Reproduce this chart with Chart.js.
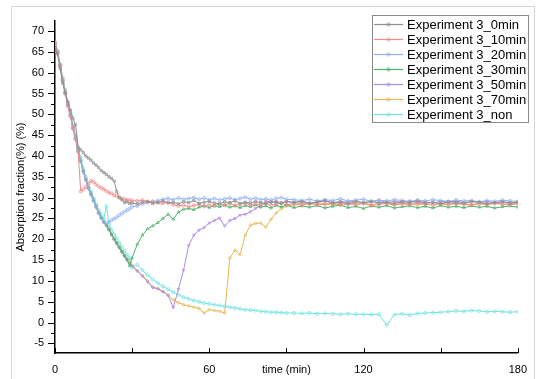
<!DOCTYPE html>
<html>
<head>
<meta charset="utf-8">
<script src="https://cdn.jsdelivr.net/npm/chart.js@4.4.1/dist/chart.umd.min.js"></script>
<style>
  html, body { margin: 0; padding: 0; background: #fff; }
  #wrap { position: relative; width: 537px; height: 379px; }
</style>
</head>
<body>
<div id="wrap"><canvas id="absChart"></canvas></div>
<script>
// time axis (min) shared by all runs
const timeMin = [
  0, 1, 2, 3, 4, 5, 6, 7, 8, 9, 10, 11, 12, 13, 14, 15, 16, 17, 18, 19, 20, 21, 22, 23, 24, 25, 26, 27, 28, 29, 30,
  32, 34, 36, 38, 40, 42, 44, 46, 48, 50, 52, 54, 56, 58, 60, 62, 64, 66, 68, 70, 72, 74, 76, 78, 80, 82, 84, 86, 88, 90,
  93, 96, 99, 102, 105, 108, 111, 114, 117, 120, 123, 126, 129, 132, 135, 138, 141, 144, 147, 150, 153, 156, 159, 162, 165, 168, 171, 174, 177, 180
];

const exp0min = [
  66, 64.5, 61, 57.5, 55, 53, 51, 49, 47.5, 42, 41.5, 40.8, 40, 39.5, 39, 38.3, 37.8, 37.2, 36.5, 36, 35.6, 35, 34.6, 34, 31.5, 30, 29.5, 28.8, 29, 28.6, 28.7,
  28.5, 28.9, 29.1, 28.6, 28.8, 29.2, 28.7, 28.9, 28.5, 29.0, 28.8, 29.3, 28.6, 28.9, 29.1, 28.7, 28.5, 29.0, 28.8, 29.2, 28.6, 28.9, 28.7, 29.1, 28.8, 28.6, 29.0, 28.9, 28.7, 29.1,
  28.8, 29.0, 28.6, 28.9, 29.2, 28.7, 28.9, 28.5, 29.0, 28.8, 29.1, 28.7, 28.9, 28.6, 29.0, 28.8, 29.2, 28.7, 28.9, 28.6, 29.0, 28.8, 28.7, 29.1, 28.9, 28.6, 28.8, 29.0, 28.7, 28.9
];
const exp10min = [
  67, 64.8, 61.5, 58, 55, 52, 49.5, 46.5, 44, 41, 31.5, 32, 32.6, 33.4, 34, 33.8, 33.2, 32.7, 32.3, 32, 31.6, 31.2, 31, 30.6, 30.4, 30, 29.8, 29.6, 29.5, 29.4, 29.3,
  29.2, 29.4, 29.0, 29.1, 28.8, 28.6, 28.9, 28.3, 28.0, 28.2, 27.8, 28.1, 28.4, 27.9, 28.3, 28.0, 28.5, 28.2, 28.6, 28.1, 28.4, 28.7, 28.2, 28.5, 28.3, 28.6, 28.2, 28.4, 28.7, 28.3,
  28.5, 28.2, 28.6, 28.3, 28.4, 28.7, 28.2, 28.5, 28.3, 28.6, 28.1, 28.4, 28.6, 28.2, 28.5, 28.3, 28.7, 28.4, 28.2, 28.5, 28.3, 28.6, 28.4, 28.2, 28.5, 28.3, 28.6, 28.4, 28.3, 28.5
];
const exp20min = [
  67, 65, 61.8, 58.3, 55.3, 52.3, 49.8, 46.8, 44.3, 41.3, 38.8, 36.3, 34.3, 32.3, 30.8, 29.3, 27.8, 26.3, 25.1, 24.2, 23.8, 24.2, 24.6, 24.9, 25.3, 25.8, 26.2, 26.6, 27.0, 27.3, 27.8,
  28.0, 28.5, 28.8, 29.0, 29.3, 29.6, 29.8, 29.5, 29.9, 29.6, 29.8, 30.0, 29.6, 29.9, 29.5, 29.8, 29.4, 29.7, 29.9, 29.5, 29.8, 30.1, 29.6, 29.9, 29.5, 29.7, 29.4, 29.8, 30.0, 29.6,
  29.5, 29.3, 29.6, 29.2, 29.5, 29.3, 29.7, 29.2, 29.4, 29.6, 29.1, 29.4, 29.2, 29.5, 29.3, 29.1, 29.4, 29.2, 29.5, 29.3, 29.1, 29.4, 29.2, 29.3, 29.0, 29.3, 29.1, 29.4, 29.2, 29.1
];
const exp30min = [
  66.8, 64.8, 61.7, 58.3, 55.3, 52.4, 49.9, 46.9, 44.4, 41.4, 38.9, 36.4, 34.4, 32.4, 30.9, 29.4, 27.9, 26.4, 25.2, 24.2, 23.4, 22.4, 21.2, 20.1, 19.1, 18.1, 17.1, 16.1, 15.2, 13.6, 15.5,
  18.8, 21.0, 22.5, 23.2, 24.0, 25.0, 26.0, 24.8, 26.5, 27.2, 27.4, 27.1, 27.7, 28.0, 27.6, 28.1, 27.8, 28.2, 27.7, 28.0, 27.6, 28.1, 27.8, 28.2, 27.7, 28.0, 27.5, 28.1, 27.8, 28.2,
  27.6, 28.0, 27.7, 28.1, 27.5, 27.9, 28.2, 27.6, 27.9, 27.4, 28.0, 27.7, 28.1, 27.5, 27.8, 28.0, 27.6, 27.9, 27.5, 28.1, 27.7, 27.9, 27.6, 28.0, 27.7, 27.9, 27.5, 27.8, 28.0, 27.7
];
const exp50min = [
  67, 64.6, 61.4, 58.1, 55.1, 52.1, 49.6, 46.6, 44.1, 41.1, 38.6, 36.1, 34.1, 32.1, 30.6, 29.1, 27.6, 26.2, 25.0, 24.0, 23.2, 22.2, 21.0, 19.9, 18.9, 17.9, 16.9, 15.9, 15.0, 14.2, 13.6,
  12.4, 11.2, 9.8, 8.4, 8.1, 7.4, 6.5, 3.6, 8.0, 12.6, 18.5, 21.0, 22.2, 22.8, 23.9, 24.5, 25.1, 23.2, 24.5, 25.0, 25.8, 26.0, 26.6, 27.4, 28.0, 29.2, 28.8, 29.1, 28.7, 29.0,
  28.9, 29.2, 28.7, 29.0, 29.3, 28.8, 29.1, 28.9, 29.2, 28.7, 29.0, 29.3, 28.8, 29.1, 28.9, 29.2, 28.8, 29.0, 28.7, 29.1, 28.9, 29.2, 28.8, 29.0, 28.9, 29.1, 28.7, 29.0, 28.8, 29.0
];
const exp70min = [
  67.3, 65.2, 62.0, 58.6, 55.6, 52.6, 50.1, 47.1, 44.6, 41.6, 39.1, 36.6, 34.6, 32.6, 31.1, 29.6, 28.1, 26.6, 25.4, 24.4, 23.5, 22.5, 21.3, 20.2, 19.2, 18.2, 17.2, 16.2, 15.3, 14.5, 13.8,
  12.5, 11.3, 10.0, 8.5, 8.2, 7.5, 6.6, 5.5, 4.8, 4.3, 4.0, 3.7, 3.4, 2.3, 3.1, 2.9, 2.7, 2.3, 15.5, 17.4, 16.3, 21.0, 23.4, 23.8, 23.9, 22.9, 24.8, 26.3, 27.3, 28.0,
  28.3, 28.7, 28.4, 28.8, 28.5, 28.2, 28.6, 28.9, 28.4, 28.7, 28.3, 28.6, 28.8, 28.4, 28.7, 28.5, 28.3, 28.6, 28.8, 28.5, 28.7, 28.4, 28.6, 28.3, 28.7, 28.5, 28.8, 28.4, 28.6, 28.5
];
const expNon = [
  67.2, 65.2, 62.0, 58.8, 55.8, 52.9, 50.3, 47.4, 44.9, 42.0, 39.5, 37.0, 35.0, 33.0, 31.4, 29.9, 28.4, 27.0, 25.9, 24.9, 28.0, 23.5, 22.3, 21.2, 20.2, 19.2, 18.2, 17.2, 16.3, 15.5, 13.2,
  13.9, 12.6, 11.4, 10.4, 9.5, 8.7, 8.0, 7.3, 6.7, 6.1, 5.7, 5.3, 5.0, 4.7, 4.5, 4.3, 4.1, 3.9, 3.7, 3.5, 3.3, 3.1, 3.0, 2.9, 2.7, 2.6, 2.5, 2.5, 2.4, 2.3,
  2.3, 2.2, 2.3, 2.1, 2.2, 2.1, 2.0, 2.1, 2.0, 2.0, 1.9, 2.0, -0.6, 1.9, 2.1, 1.8, 2.2, 2.3, 2.4, 2.5, 2.6, 2.8, 2.7, 2.9, 2.8, 2.6, 2.7, 2.6, 2.5, 2.6
];

const seriesNames = [
  "Experiment 3_0min", "Experiment 3_10min", "Experiment 3_20min", "Experiment 3_30min",
  "Experiment 3_50min", "Experiment 3_70min", "Experiment 3_non"
];
const seriesValues = [exp0min, exp10min, exp20min, exp30min, exp50min, exp70min, expNon];
const seriesColors = ["#8f8f8f", "#f28b8b", "#8fb3f0", "#4cb36a", "#b08be6", "#e8b54e", "#6ee3e3"];
const seriesMarkers = ["rect", "circle", "circle", "triangle", "triangle", "rectRot", "circle"];
const xTickLabels = [0, 60, 120, 180];

const FONT = '"Liberation Sans", Arial, sans-serif';

const datasets = seriesNames.map((name, i) => ({
  label: name,
  data: timeMin.map((t, j) => ({ x: t, y: seriesValues[i][j] })),
  borderColor: seriesColors[i],
  borderWidth: 1,
  pointStyle: seriesMarkers[i],
  pointRotation: i === 4 ? 180 : 0,
  pointRadius: 1.6,
  pointBorderWidth: 0.7,
  pointBorderColor: seriesColors[i],
  pointBackgroundColor: "rgba(255,255,255,0)",
  tension: 0,
}));

const decor = {
  id: "decor",
  beforeDraw(chart) {
    const c = chart.ctx;
    c.save();
    c.fillStyle = "#fff";
    c.fillRect(0, 0, chart.width, chart.height);
    c.strokeStyle = "#d6d6d6";
    c.lineWidth = 1;
    c.beginPath();
    c.moveTo(11.5, 379);
    c.lineTo(11.5, 6.5);
    c.lineTo(534.5, 6.5);
    c.lineTo(534.5, 379);
    c.stroke();
    c.restore();
  },
  afterDraw(chart) {
    const c = chart.ctx;
    const xs = chart.scales.x;
    const ys = chart.scales.y;
    const area = chart.chartArea;
    c.save();
    // tick marks: y outward (major/minor), x inward
    c.strokeStyle = "#000";
    c.lineWidth = 1;
    c.beginPath();
    ys.ticks.forEach((t) => {
      const py = Math.round(ys.getPixelForValue(t.value)) + 0.5;
      const len = t.value % 5 === 0 ? 7 : 4;
      c.moveTo(area.left - len, py);
      c.lineTo(area.left, py);
    });
    xs.ticks.forEach((t) => {
      const px = Math.round(xs.getPixelForValue(t.value)) + 0.5;
      c.moveTo(px, area.bottom);
      c.lineTo(px, area.bottom - 5);
    });
    c.stroke();

    // legend box
    const lx = 372, ly = 15, lw = 156, lh = 107, row = 15;
    c.fillStyle = "#fff";
    c.fillRect(lx, ly, lw, lh);
    c.strokeStyle = "#8a8a8a";
    c.strokeRect(lx + 0.5, ly + 0.5, lw, lh);
    c.font = "13px " + FONT;
    c.textBaseline = "middle";
    c.textAlign = "left";
    chart.data.datasets.forEach((ds, i) => {
      const cy = ly + 9.5 + i * row;
      c.strokeStyle = ds.borderColor;
      c.lineWidth = 1.2;
      c.beginPath();
      c.moveTo(lx + 2, cy);
      c.lineTo(lx + 31, cy);
      c.stroke();
      c.lineWidth = 0.8;
      c.beginPath();
      c.arc(lx + 16.5, cy, 1.6, 0, Math.PI * 2);
      c.stroke();
      c.fillStyle = "#000";
      c.fillText(ds.label, lx + 35, cy + 0.5);
    });
    c.restore();
  },
};

new Chart(document.getElementById("absChart").getContext("2d"), {
  type: "line",
  data: { datasets: datasets },
  plugins: [decor],
  options: {
    responsive: true,
    maintainAspectRatio: false,
    animation: false,
    layout: { padding: { left: 0, top: 21, right: 13, bottom: 0 } },
    plugins: {
      legend: { display: false },
      tooltip: { enabled: false },
    },
    scales: {
      x: {
        type: "linear",
        min: 0,
        max: 180,
        afterFit: (s) => { s.height = 26; },
        grid: { display: false, drawTicks: false },
        border: { display: true, color: "#000", width: 1.5 },
        ticks: {
          stepSize: 30,
          autoSkip: false,
          maxRotation: 0,
          padding: 10,
          color: "#000",
          font: { family: FONT, size: 11 },
          callback: (v) => (xTickLabels.includes(v) ? String(v) : ""),
        },
        title: {
          display: true,
          text: "time (min)",
          color: "#000",
          font: { family: FONT, size: 11 },
          padding: { top: 0, bottom: 2 },
        },
      },
      y: {
        min: -7.3,
        max: 72.4,
        afterFit: (s) => { s.width = 55; },
        grid: { display: false, drawTicks: false },
        border: { display: true, color: "#000", width: 1.5 },
        ticks: {
          stepSize: 2.5,
          includeBounds: false,
          autoSkip: false,
          padding: 11,
          color: "#000",
          font: { family: FONT, size: 11 },
          callback: (v) => (v % 5 === 0 ? String(v) : ""),
        },
        title: {
          display: true,
          text: "Absorption fraction(%) (%)",
          color: "#000",
          font: { family: FONT, size: 11 },
          padding: { top: 14, bottom: 0 },
        },
      },
    },
  },
});
</script>
</body>
</html>
